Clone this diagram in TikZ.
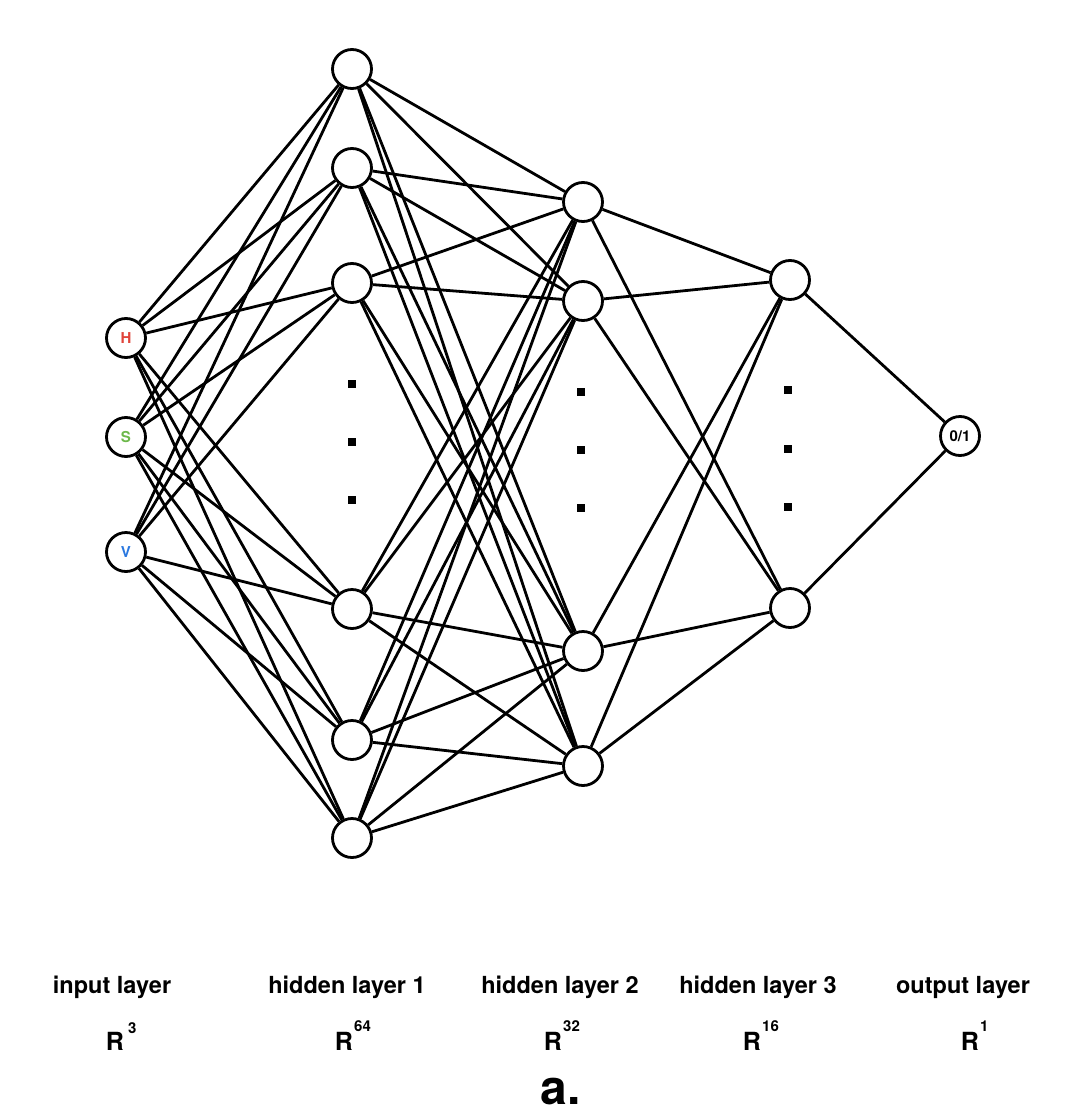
\documentclass[tikz,border=0pt]{standalone}
\usepackage{fontspec}
\setmainfont{TeX Gyre Heros}
\definecolor{hred}{HTML}{E0443A}
\definecolor{sgreen}{HTML}{6CB84A}
\definecolor{vblue}{HTML}{2A78E0}
\begin{document}
\begin{tikzpicture}[x=1pt,y=-1pt,
  neuron/.style={circle,draw,line width=2.8pt,minimum size=39pt,inner sep=0pt,fill=white,
    font=\fontsize{15}{17}\selectfont\bfseries},
  conn/.style={line width=2.8pt},
  dotmark/.style={rectangle,fill=black,minimum size=7.5pt,inner sep=0pt},
  lbl/.style={anchor=base,inner sep=0pt,font=\fontsize{23.5}{27}\selectfont\bfseries},
  rlbl/.style={anchor=base,inner sep=0pt,font=\fontsize{25}{29}\selectfont\bfseries},
  suplbl/.style={anchor=base west,inner sep=0pt,font=\fontsize{15}{17}\selectfont\bfseries}]
\useasboundingbox (0,0) rectangle (1087,1116);
% input layer
\node[neuron,text=hred] (i1) at (126,338) {H};
\node[neuron,text=sgreen] (i2) at (126,437) {S};
\node[neuron,text=vblue] (i3) at (126,552) {V};
% hidden 1
\node[neuron] (a1) at (352,69) {};
\node[neuron] (a2) at (352,168) {};
\node[neuron] (a3) at (352,283) {};
\node[neuron] (a4) at (352,609) {};
\node[neuron] (a5) at (352,740) {};
\node[neuron] (a6) at (352,838) {};
% hidden 2
\node[neuron] (b1) at (583,202) {};
\node[neuron] (b2) at (583,301) {};
\node[neuron] (b3) at (583,651) {};
\node[neuron] (b4) at (583,766) {};
% hidden 3
\node[neuron] (c1) at (790,280) {};
\node[neuron] (c2) at (790,608) {};
% output
\node[neuron] (o) at (960,436) {0/1};
% dots
\node[dotmark] (d11) at (352,384) {};
\node[dotmark] (d12) at (352,442) {};
\node[dotmark] (d13) at (352,500) {};
\node[dotmark] (d21) at (581,392) {};
\node[dotmark] (d22) at (581,450) {};
\node[dotmark] (d23) at (581,508) {};
\node[dotmark] (d31) at (788,390) {};
\node[dotmark] (d32) at (788,449) {};
\node[dotmark] (d33) at (788,507) {};
% connections
\foreach \s in {i1,i2,i3}
  \foreach \t in {a1,a2,a3,a4,a5,a6}
    \draw[conn] (\s) -- (\t);
\foreach \s in {a1,a2,a3,a4,a5,a6}
  \foreach \t in {b1,b2,b3,b4}
    \draw[conn] (\s) -- (\t);
\foreach \s in {b1,b2,b3,b4}
  \foreach \t in {c1,c2}
    \draw[conn] (\s) -- (\t);
\foreach \s in {c1,c2}
  \draw[conn] (\s) -- (o);
% labels
\node[lbl] (l1) at (112,993) {input layer};
\node[lbl] (l2) at (347,993) {hidden layer 1};
\node[lbl] (l3) at (560,993) {hidden layer 2};
\node[lbl] (l4) at (758,993) {hidden layer 3};
\node[lbl] (l5) at (963,993) {output layer};
\node[rlbl] (r1) at (115,1050) {R};
\node[suplbl] (s1) at (128,1033) {3};
\node[rlbl] (r2) at (344,1050) {R};
\node[suplbl] (s2) at (354,1031) {64};
\node[rlbl] (r3) at (553,1050) {R};
\node[suplbl] (s3) at (563,1031) {32};
\node[rlbl] (r4) at (752,1050) {R};
\node[suplbl] (s4) at (762,1031) {16};
\node[rlbl] (r5) at (970,1050) {R};
\node[suplbl] (s5) at (980,1031) {1};
\node[anchor=base,inner sep=0pt,font=\fontsize{48}{52}\selectfont\bfseries] (cap) at (561,1104) {a.};
\end{tikzpicture}
\end{document}
